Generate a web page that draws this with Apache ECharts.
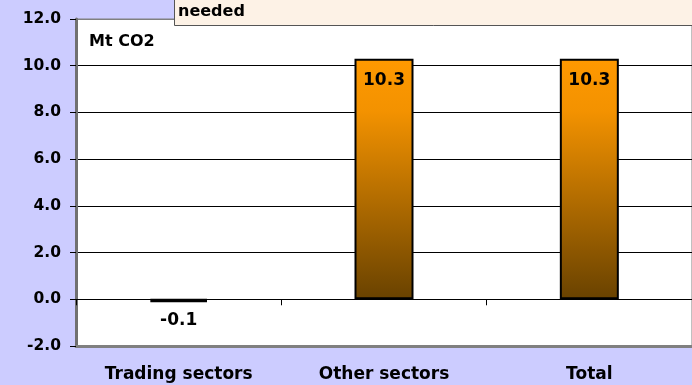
<!DOCTYPE html>
<html><head><meta charset="utf-8">
<script src="https://cdn.jsdelivr.net/npm/echarts@6/dist/echarts.min.js"></script>
<style>html,body{margin:0;padding:0;background:#ccccff;}#c{width:692px;height:385px;}</style>
</head><body><div id="c"></div>
<script>
var categories = ['Trading sectors', 'Other sectors', 'Total'];
var values = [-0.1, 10.3, 10.3];
var yTicks = [-2, 0, 2, 4, 6, 8, 10, 12];

var FONT = 'DejaVu Sans, Liberation Sans, Arial, sans-serif';
var chart = echarts.init(document.getElementById('c'), null, {renderer: 'canvas'});
var grad = new echarts.graphic.LinearGradient(0, 0, 0, 1, [
  {offset: 0, color: '#ff9900'},
  {offset: 0.22, color: '#f39200'},
  {offset: 1, color: '#694200'}
]);
chart.setOption({
  backgroundColor: '#ccccff',
  animation: false,
  textStyle: {fontFamily: FONT},
  grid: {left: 76, right: -2, top: 19, bottom: 39, show: true, backgroundColor: '#ffffff', borderColor: '#808080', borderWidth: 1},
  xAxis: [{
    type: 'category', data: categories, position: 'bottom',
    axisLine: {onZero: true, lineStyle: {color: '#000', width: 1}},
    axisTick: {show: true, length: 6, lineStyle: {color: '#000'}},
    axisLabel: {show: false}, splitLine: {show: false}
  }, {
    type: 'category', data: categories, position: 'bottom',
    axisLine: {onZero: false, lineStyle: {color: '#808080', width: 3}},
    axisTick: {show: false},
    axisLabel: {show: true, color: '#000', fontWeight: 'bold', fontSize: 17, margin: 20, fontFamily: FONT}
  }],
  yAxis: {
    type: 'value', min: yTicks[0], max: yTicks[yTicks.length - 1], interval: 2,
    axisLine: {show: true, lineStyle: {color: '#707070', width: 3}},
    axisTick: {show: true, length: 6, lineStyle: {color: '#000'}},
    axisLabel: {color: '#000', fontWeight: 'bold', fontSize: 15.5, margin: 15, fontFamily: FONT,
      formatter: function (v) { return v.toFixed(1); }},
    splitLine: {show: true, lineStyle: {color: ['#808080', '#000', '#000', '#000', '#000', '#000', '#000', '#808080'], width: 1}}
  },
  graphic: [
    {type: 'rect', left: 174, top: -1, shape: {width: 530, height: 26}, style: {fill: '#fdf2e6', stroke: '#555', lineWidth: 1}, z: 100},
    {type: 'text', left: 178, top: 4, style: {text: 'needed', fill: '#000', font: 'bold 16px ' + FONT}, z: 101},
    {type: 'text', left: 89, top: 34, style: {text: 'Mt CO2', fill: '#000', font: 'bold 16px ' + FONT}, z: 50}
  ],
  series: [{
    type: 'bar', xAxisIndex: 0, barWidth: 59,
    data: values.map(function (v) {
      return v < 0 ? {value: v, itemStyle: {borderWidth: 3.5}, label: {position: 'bottom', distance: 10}} : v;
    }),
    itemStyle: {color: grad, borderColor: '#000', borderWidth: 2},
    label: {show: true, position: 'insideTop', distance: 13, color: '#000', fontWeight: 'bold', fontSize: 17,
      fontFamily: FONT,
      formatter: function (p) { return p.value.toFixed(1); }}
  }]
});
</script></body></html>
